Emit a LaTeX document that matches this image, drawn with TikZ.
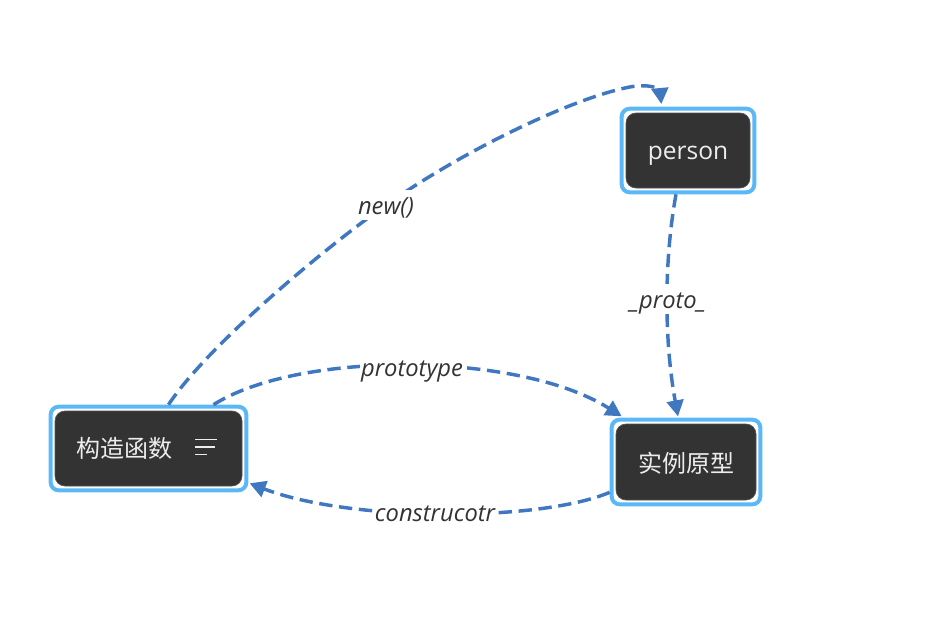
\documentclass[tikz,border=0pt]{standalone}
\usepackage{fontspec}
\setmainfont{Open Sans}
\newfontfamily\cjk{Noto Sans CJK SC}
\usetikzlibrary{arrows.meta,fit}
\definecolor{darkbox}{HTML}{333333}
\definecolor{rimblue}{HTML}{5BB8F6}
\definecolor{edgeblue}{HTML}{3F78C1}
\definecolor{labgray}{HTML}{333333}
\tikzset{
  darkbox/.style={fill=darkbox, draw=darkbox!85!white, line width=0.5pt, rounded corners=7.5pt,
    text=white!93!black, inner sep=0pt, font=\fontsize{18.4pt}{22pt}\selectfont,
    text height=16.6pt, text depth=3.4pt},
  cjkbox/.style={darkbox, font=\cjk\fontsize{18pt}{22pt}\selectfont, text height=18pt, text depth=1.8pt},
  rim/.style={draw=rimblue, line width=3pt, rounded corners=6pt, inner sep=3pt},
  link/.style={draw=edgeblue, line width=2.6pt, dash pattern=on 10pt off 5pt,
    -{Triangle[length=12pt,width=12.5pt]}},
  lab/.style={fill=white, inner sep=1pt, text=labgray,
    font=\fontsize{17.8pt}{21pt}\selectfont\itshape, text height=17pt, text depth=3.2pt},
  icon/.style={draw=white!93!black, line width=1.4pt}
}
\begin{document}
\begin{tikzpicture}[x=0.75pt,y=-0.75pt]
\useasboundingbox (0,0) rectangle (952,642);
% nodes
\node[darkbox, minimum width=140.25pt, minimum height=56.25pt] (cf) at (148.5,448.5) {};
\node[text=white!93!black, font=\cjk\fontsize{18pt}{22pt}\selectfont, inner sep=0pt,
  text height=18pt, text depth=1.8pt] (cft) at (124.5,447) {构造函数};
\draw[icon] (195,439.5) -- (217,439.5);
\draw[icon] (195,447) -- (215,447);
\draw[icon] (195,454.5) -- (207,454.5);
\node[rim, fit=(cf)] (cfb) {};

\node[darkbox, minimum width=93pt, minimum height=56.25pt] (p) at (688,150.5) {person};
\node[rim, fit=(p)] (pb) {};

\node[cjkbox, minimum width=105pt, minimum height=57pt] (e) at (686,462) {实例原型};
\node[rim, fit=(e)] (eb) {};

% connectors
\draw[link] ([xshift=15pt]cfb.north) .. controls (208,345) and (326,247) .. (386,205)
   .. controls (466,149) and (570,100) .. (625,88)
   .. controls (650,82) and (660,90) .. ([xshift=-20pt,yshift=2pt]pb.north);
\draw[link] ([xshift=-9pt]pb.south) .. controls (664,260) and (664,340) .. ([xshift=-6pt,yshift=1pt]eb.north);
\draw[link] ([xshift=48.75pt]cfb.north) .. controls (300,350) and (520,352) .. ([xshift=9pt,yshift=1pt]eb.north west);
\draw[link] ([yshift=10.5pt]eb.south west) .. controls (540,522) and (350,522) .. ([xshift=1pt,yshift=6.75pt]cfb.south east);

% labels
\node[lab] (l1) at (386,205) {new()};
\node[lab] (l2) at (668,299) {\_proto\_};
\node[lab] (l3) at (412,367) {prototype};
\node[lab] (l4) at (435,512) {construcotr};
\end{tikzpicture}
\end{document}
